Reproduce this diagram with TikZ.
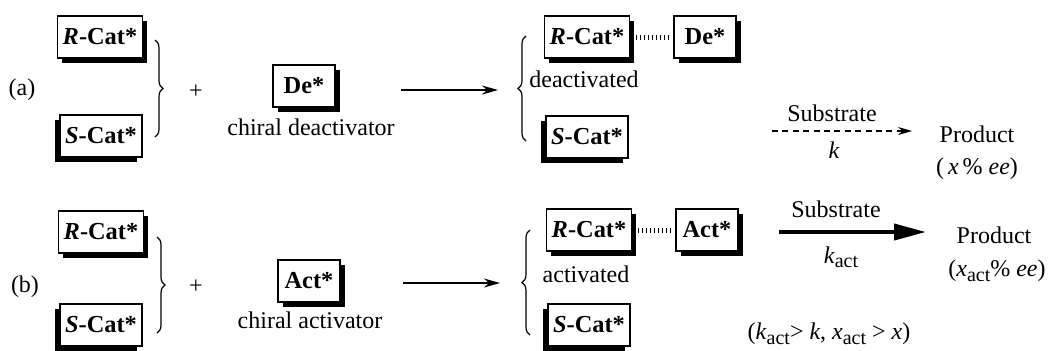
\documentclass[tikz,border=0pt]{standalone}
\usepackage{fontspec}
\setmainfont{Liberation Serif}
\usetikzlibrary{shadows,arrows.meta,decorations.pathreplacing}
\newcommand{\subact}{\raisebox{-0.4ex}{\fontsize{10}{12}\selectfont act}}
\begin{document}
\begin{tikzpicture}[x=0.5pt,y=-0.5pt,
  catbox/.style={draw, line width=0.7pt, fill=white,
    font=\fontsize{12.2}{14}\selectfont\bfseries,
    minimum height=21pt, inner xsep=2.5pt, minimum width=31pt},
  shr/.style={catbox, drop shadow={shadow xshift=2.3pt, shadow yshift=-2.4pt, fill=black, opacity=1}},
  shl/.style={catbox, drop shadow={shadow xshift=-2.3pt, shadow yshift=-2.4pt, fill=black, opacity=1}},
  lbl/.style={font=\fontsize{12}{14}\selectfont, inner sep=0pt},
  brc/.style={decorate, decoration={brace, amplitude=4pt, aspect=0.5}, line width=0.6pt},
  rarrow/.style={line width=0.7pt, -{Stealth[length=8pt, width=4.5pt]}},
  darrow/.style={line width=0.7pt, dash pattern=on 3pt off 2.2pt, -{Stealth[length=7pt, width=4pt]}},
  tarrow/.style={line width=2pt, -{Triangle[length=16pt, width=8pt]}},
  dotline/.style={line width=2.5pt, dash pattern=on 0.5pt off 1.5pt, shorten <=3pt, shorten >=1pt}
]
\useasboundingbox (0,0) rectangle (1048,350);

% ---------------- row (a) ----------------
\node[lbl] (la) at (22,90) {(a)};
\node[shr] (Ra1) at (100,37) {\textit{R}-Cat*};
\node[shl] (Sa1) at (101,136) {\textit{S}-Cat*};
\coordinate (ba1) at (155,40);
\coordinate (ba2) at (155,137);
\draw[brc] (ba1) -- (ba2);
\node[lbl] (pa) at (196,92) {+};
\node[shr] (De1) at (304,86) {De*};
\node[lbl] (cda) at (311,127) {chiral deactivator};
\coordinate (aa1) at (401,90);
\coordinate (aa2) at (498,90);
\draw[rarrow] (aa1) -- (aa2);
\coordinate (bb1) at (526,141);
\coordinate (bb2) at (526,36);
\draw[brc] (bb1) -- (bb2);
\node[shr] (Ra2) at (587,37) {\textit{R}-Cat*};
\node[shr] (De2) at (705,37) {De*};
\draw[dotline] (Ra2.east) -- (De2.west);
\node[lbl] (deact) at (584,79) {deactivated};
\node[shl] (Sa2) at (587,137) {\textit{S}-Cat*};
\node[lbl] (suba) at (832,113) {Substrate};
\coordinate (da1) at (772,131);
\coordinate (da2) at (912,131);
\draw[darrow] (da1) -- (da2);
\node[lbl] (ka) at (834,150) {\textit{k}};
\node[lbl] (proda) at (977,134) {Product};
\node[lbl] (eea) at (977,169) {(\,\textit{x}\,\% \textit{ee})};

% ---------------- row (b) ----------------
\node[lbl] (lb) at (25,287) {(b)};
\node[shr] (Rb1) at (101,232) {\textit{R}-Cat*};
\node[shl] (Sb1) at (101,325) {\textit{S}-Cat*};
\coordinate (bc1) at (157,237);
\coordinate (bc2) at (157,333);
\draw[brc] (bc1) -- (bc2);
\node[lbl] (pb) at (196,287) {+};
\node[shr] (Act1) at (309,281) {Act*};
\node[lbl] (cab) at (310,320) {chiral activator};
\coordinate (ab1) at (403,283);
\coordinate (ab2) at (500,283);
\draw[rarrow] (ab1) -- (ab2);
\coordinate (bd1) at (530,335);
\coordinate (bd2) at (530,230);
\draw[brc] (bd1) -- (bd2);
\node[shr] (Rb2) at (589,230) {\textit{R}-Cat*};
\node[shr] (Act2) at (707,230) {Act*};
\draw[dotline] (Rb2.east) -- (Act2.west);
\node[lbl] (act) at (586,274) {activated};
\node[shl] (Sb2) at (589,325) {\textit{S}-Cat*};
\node[lbl] (subb) at (836,209) {Substrate};
\coordinate (tb1) at (779,232);
\coordinate (tb2) at (926,232);
\draw[tarrow] (tb1) -- (tb2);
\node[lbl] (kb) at (841,257) {\textit{k}\subact};
\node[lbl] (prodb) at (994,235) {Product};
\node[lbl] (eeb) at (997,271) {(\textit{x}\subact\% \textit{ee})};
\node[lbl] (cmp) at (829,334) {(\textit{k}\subact> \textit{k}, \textit{x}\subact{} > \textit{x})};
\end{tikzpicture}
\end{document}
